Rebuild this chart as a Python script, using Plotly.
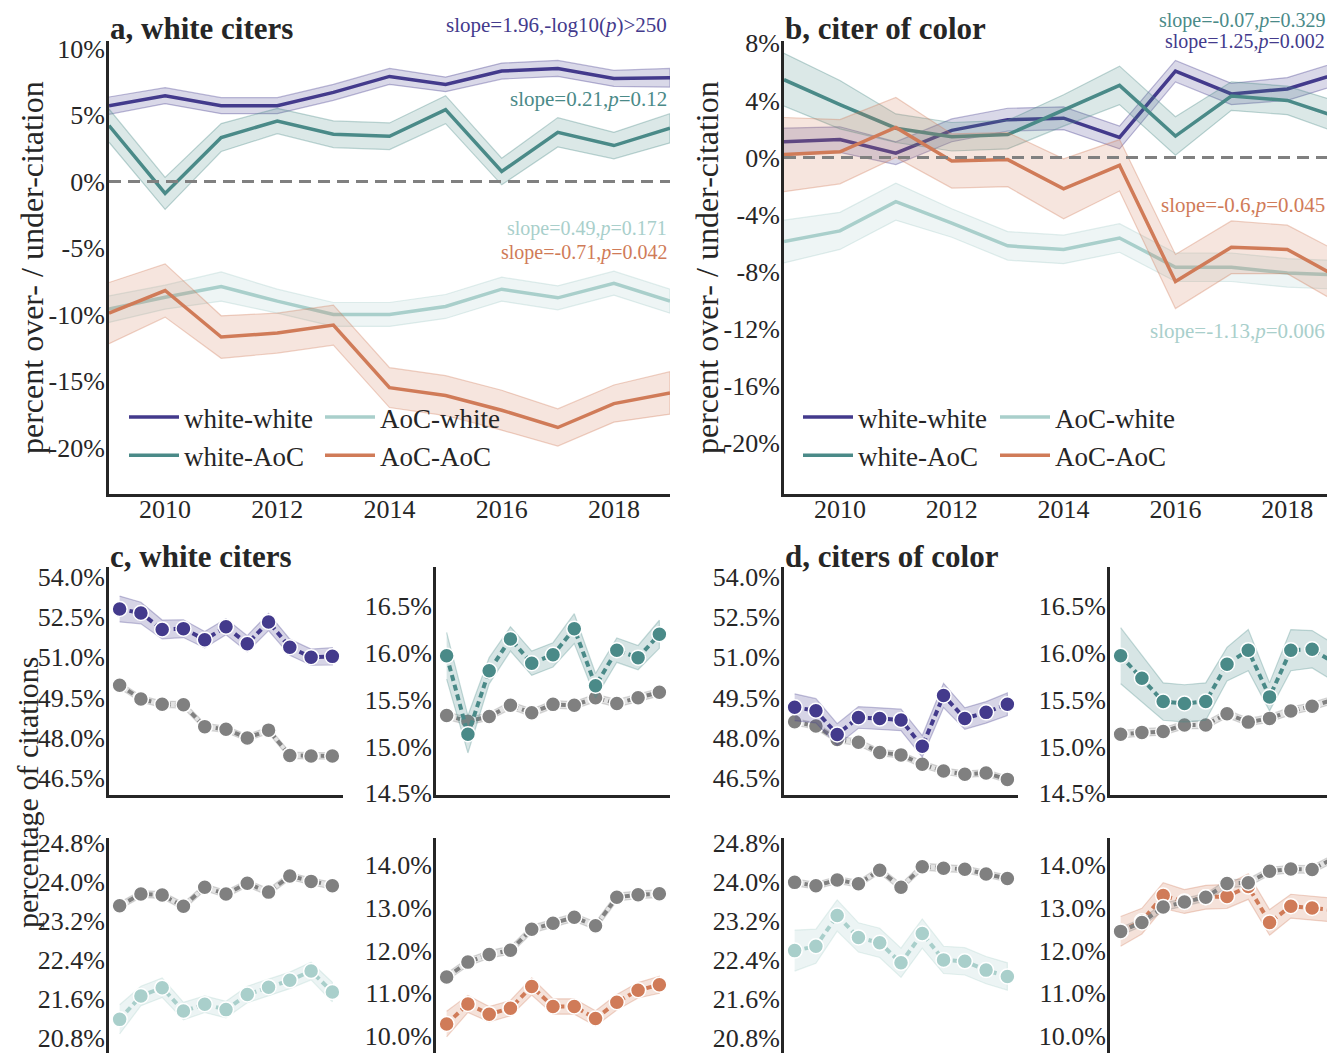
import plotly.graph_objects as go

# the page body keeps its default 8px margin, so the figure is laid out in
# reference pixels shifted by OFF and sized to fit the window without scrollbars
OFF = 8
W, H = 1335 - 2 * OFF, 1061 - 2 * OFF
FONT = 'Liberation Serif'
INK = '#262626'

PURPLE = '#433a8c'
TEAL = '#4a8a88'
LTEAL = '#a9cfcb'
ORANGE = '#d07b58'
GRAY = '#808080'

years = list(range(2009, 2020))

# a, white citers: percent over-/under-citation, with 95% CI half-widths
a_ww = [5.7, 6.45, 5.7, 5.7, 6.7, 7.9, 7.3, 8.3, 8.5, 7.75, 7.8]
a_ww_ci = [0.65, 0.6, 0.6, 0.6, 0.6, 0.6, 0.55, 0.6, 0.6, 0.6, 0.7]
a_wa = [4.2, -0.9, 3.3, 4.55, 3.55, 3.4, 5.4, 0.75, 3.7, 2.7, 4.0]
a_wa_ci = [1.25, 1.2, 1.05, 0.95, 1.0, 1.0, 1.05, 1.0, 1.1, 1.0, 1.1]
a_aw = [-9.6, -8.7, -7.9, -9.0, -10.0, -10.0, -9.4, -8.1, -8.75, -7.65, -9.0]
a_aw_ci = [1.0, 0.9, 1.1, 0.9, 0.9, 0.9, 0.9, 0.9, 0.9, 0.9, 0.9]
a_aa = [-9.9, -8.2, -11.7, -11.4, -10.8, -15.5, -16.1, -17.2, -18.5, -16.7, -15.9]
a_aa_ci = [2.3, 2.0, 1.6, 1.5, 1.5, 1.5, 1.5, 1.5, 1.4, 1.4, 1.6]

# b, citer of color
b_ww = [1.1, 1.25, 0.3, 1.9, 2.65, 2.75, 1.4, 6.05, 4.45, 4.8, 6.0]
b_ww_ci = [0.95, 0.9, 0.8, 0.8, 0.8, 0.8, 0.8, 0.75, 0.75, 0.8, 0.8]
b_wa = [5.45, 3.7, 2.05, 1.45, 1.6, 3.3, 5.05, 1.5, 4.3, 4.0, 2.7]
b_wa_ci = [1.85, 1.7, 1.0, 1.0, 1.0, 1.1, 1.35, 1.35, 1.0, 1.0, 1.1]
b_aw = [-5.9, -5.15, -3.1, -4.6, -6.2, -6.45, -5.65, -7.7, -7.7, -8.1, -8.25]
b_aw_ci = [1.5, 1.3, 1.3, 1.0, 1.0, 1.0, 1.0, 1.0, 1.0, 1.0, 1.0]
b_aa = [0.2, 0.4, 2.1, -0.25, -0.15, -2.2, -0.55, -8.7, -6.3, -6.45, -8.6]
b_aa_ci = [2.6, 2.25, 2.1, 1.9, 1.9, 2.1, 1.8, 1.9, 1.85, 1.7, 1.8]

# c, white citers: percentage of citations (observed vs. expected)
c_ww = [52.79, 52.64, 52.03, 52.06, 51.65, 52.13, 51.5, 52.31, 51.37, 51.0, 51.03]
c_ww_ci = [0.48, 0.4, 0.35, 0.33, 0.3, 0.3, 0.3, 0.32, 0.3, 0.3, 0.32]
c_ww_null = [49.96, 49.45, 49.25, 49.23, 48.42, 48.32, 48.0, 48.29, 47.35, 47.33, 47.33]
c_wa = [15.97, 15.13, 15.81, 16.15, 15.89, 15.98, 16.26, 15.65, 16.03, 15.95, 16.2]
c_wa_ci = [0.25, 0.2, 0.14, 0.13, 0.13, 0.13, 0.16, 0.13, 0.13, 0.13, 0.15]
c_wa_null = [15.33, 15.27, 15.32, 15.44, 15.36, 15.45, 15.44, 15.52, 15.46, 15.52, 15.58]
c_aw = [21.19, 21.67, 21.84, 21.36, 21.5, 21.39, 21.7, 21.85, 21.99, 22.18, 21.75]
c_aw_ci = [0.3, 0.2, 0.2, 0.18, 0.17, 0.17, 0.17, 0.17, 0.17, 0.18, 0.2]
c_aw_null = [23.52, 23.76, 23.74, 23.51, 23.9, 23.76, 23.98, 23.8, 24.13, 24.02, 23.93]
c_aa = [10.28, 10.75, 10.51, 10.65, 11.16, 10.69, 10.69, 10.41, 10.79, 11.07, 11.2]
c_aa_ci = [0.3, 0.2, 0.18, 0.18, 0.2, 0.18, 0.18, 0.18, 0.18, 0.18, 0.2]
c_aa_null = [11.38, 11.73, 11.91, 12.01, 12.5, 12.64, 12.78, 12.58, 13.25, 13.31, 13.33]

# d, citers of color
d_ww = [49.14, 49.01, 48.13, 48.76, 48.72, 48.67, 47.69, 49.58, 48.72, 48.95, 49.25]
d_ww_ci = [0.5, 0.45, 0.4, 0.4, 0.4, 0.4, 0.4, 0.45, 0.4, 0.4, 0.42]
d_ww_null = [48.6, 48.44, 47.94, 47.84, 47.46, 47.37, 47.02, 46.77, 46.65, 46.7, 46.46]
d_wa = [15.97, 15.73, 15.48, 15.46, 15.48, 15.88, 16.03, 15.53, 16.03, 16.04, 15.9]
d_wa_ci = [0.3, 0.25, 0.2, 0.2, 0.2, 0.18, 0.22, 0.15, 0.22, 0.2, 0.2]
d_wa_null = [15.13, 15.15, 15.16, 15.23, 15.23, 15.35, 15.26, 15.3, 15.38, 15.43, 15.5]
d_aw = [22.6, 22.69, 23.32, 22.87, 22.76, 22.35, 22.95, 22.41, 22.38, 22.2, 22.07]
d_aw_ci = [0.42, 0.35, 0.32, 0.3, 0.3, 0.3, 0.3, 0.28, 0.28, 0.28, 0.28]
d_aw_null = [24.0, 23.93, 24.05, 23.97, 24.25, 23.9, 24.32, 24.29, 24.27, 24.17, 24.08]
d_aa = [12.45, 12.69, 13.29, 13.15, 13.25, 13.27, 13.5, 12.66, 13.04, 13.0, 12.95]
d_aa_ci = [0.35, 0.3, 0.3, 0.28, 0.28, 0.28, 0.3, 0.3, 0.28, 0.28, 0.28]
d_aa_null = [12.45, 12.66, 13.02, 13.14, 13.25, 13.57, 13.59, 13.86, 13.91, 13.9, 14.16]
null_ci_top = 0.12
null_ci_wa = 0.04
null_ci_aw = 0.07
null_ci_aa = 0.09


def rgba(hexcol, a):
    h = hexcol.lstrip('#')
    r, g, b = int(h[0:2], 16), int(h[2:4], 16), int(h[4:6], 16)
    return f'rgba({r},{g},{b},{a})'


def fx(p):
    return (p - OFF) / W


def fy(p):
    return 1 - (p - OFF) / H


def clamp(v):
    return max(0.0, min(1.0, v))


fig = go.Figure()


def add_band(xa, ya, y, ci, color, fill_a=0.2, edge_a=0.35):
    up = [v + c for v, c in zip(y, ci)]
    lo = [v - c for v, c in zip(y, ci)]
    fig.add_trace(go.Scatter(
        x=years + years[::-1], y=up + lo[::-1], xaxis=xa, yaxis=ya,
        fill='toself', fillcolor=rgba(color, fill_a), mode='lines',
        line=dict(color=rgba(color, edge_a), width=1.2),
        hoverinfo='skip', showlegend=False, cliponaxis=False))


def add_ci_line(xa, ya, y, ci, color, name, legend):
    add_band(xa, ya, y, ci, color)
    fig.add_trace(go.Scatter(
        x=years, y=y, xaxis=xa, yaxis=ya, mode='lines', name=name,
        line=dict(color=color, width=3.5), showlegend=True, legend=legend))


def add_dots(xa, ya, y, ci, color):
    add_band(xa, ya, y, ci, color, fill_a=0.22, edge_a=0.3)
    fig.add_trace(go.Scatter(
        x=years, y=y, xaxis=xa, yaxis=ya, mode='lines+markers',
        line=dict(color=color, width=4, dash='6px,4px'),
        marker=dict(color=color, size=15, line=dict(color='white', width=1.5)),
        showlegend=False, cliponaxis=False))


# top panels
add_ci_line('x', 'y', a_ww, a_ww_ci, PURPLE, 'white-white', 'legend')
add_ci_line('x', 'y', a_wa, a_wa_ci, TEAL, 'white-AoC', 'legend')
add_ci_line('x', 'y', a_aw, a_aw_ci, LTEAL, 'AoC-white', 'legend2')
add_ci_line('x', 'y', a_aa, a_aa_ci, ORANGE, 'AoC-AoC', 'legend2')

add_ci_line('x2', 'y2', b_ww, b_ww_ci, PURPLE, 'white-white', 'legend3')
add_ci_line('x2', 'y2', b_wa, b_wa_ci, TEAL, 'white-AoC', 'legend3')
add_ci_line('x2', 'y2', b_aw, b_aw_ci, LTEAL, 'AoC-white', 'legend4')
add_ci_line('x2', 'y2', b_aa, b_aa_ci, ORANGE, 'AoC-AoC', 'legend4')

for xa, ya in [('x', 'y'), ('x2', 'y2')]:
    fig.add_shape(type='line', xref=f'{xa} domain', x0=0, x1=1, yref=ya, y0=0, y1=0,
                  line=dict(color=GRAY, width=3, dash='12px,7px'), layer='above')

# bottom panels: expected (gray) underneath observed
bottom = [
    ('x3', 'y3', c_ww, c_ww_ci, c_ww_null, null_ci_top, PURPLE),
    ('x4', 'y4', c_wa, c_wa_ci, c_wa_null, null_ci_wa, TEAL),
    ('x5', 'y5', c_aw, c_aw_ci, c_aw_null, null_ci_aw, LTEAL),
    ('x6', 'y6', c_aa, c_aa_ci, c_aa_null, null_ci_aa, ORANGE),
    ('x7', 'y7', d_ww, d_ww_ci, d_ww_null, null_ci_top, PURPLE),
    ('x8', 'y8', d_wa, d_wa_ci, d_wa_null, null_ci_wa, TEAL),
    ('x9', 'y9', d_aw, d_aw_ci, d_aw_null, null_ci_aw, LTEAL),
    ('x10', 'y10', d_aa, d_aa_ci, d_aa_null, null_ci_aa, ORANGE),
]
for xa, ya, obs, obs_ci, null, nci, col in bottom:
    if xa == 'x10':
        add_dots(xa, ya, obs, obs_ci, col)
        add_dots(xa, ya, null, [nci for _ in null], GRAY)
    else:
        add_dots(xa, ya, null, [nci for _ in null], GRAY)
        add_dots(xa, ya, obs, obs_ci, col)

tickfont = dict(family=FONT, size=26, color=INK)


def xax(n, left, right, rng, labels=True, tickvals=None, line=True):
    return dict(domain=[clamp(fx(left)), clamp(fx(right))], range=rng, anchor=f'y{n}',
                showline=line, linecolor=INK, linewidth=3, showgrid=False, zeroline=False,
                ticks='', showticklabels=labels, tickvals=tickvals, tickfont=tickfont,
                ticklabelstandoff=-10, automargin=False)


def yax(n, top, bottom_px, rng, tickvals, fmt):
    return dict(domain=[clamp(fy(bottom_px)), clamp(fy(top))], range=rng, anchor=f'x{n}',
                showline=True, linecolor=INK, linewidth=3, showgrid=False, zeroline=False,
                ticks='', tickvals=tickvals, ticktext=[fmt.format(v) for v in tickvals],
                tickfont=tickfont, ticklabelstandoff=-4, ticklabeloverflow='allow',
                automargin=False)


yr_ticks = [2010, 2012, 2014, 2016, 2018]
lay = dict(
    xaxis=xax('', 109, 670, [2009, 2019], tickvals=yr_ticks),
    yaxis=yax('', 40.5, 494, [-23.5, 10.6], [-20, -15, -10, -5, 0, 5, 10], '{:d}%'),
    xaxis2=xax(2, 784, 1327, [2009, 2018.71], tickvals=yr_ticks),
    yaxis2=yax(2, 40.5, 494, [-23.6, 8.2], [-20, -16, -12, -8, -4, 0, 4, 8], '{:d}%'),
)
t_top = [54.0, 52.5, 51.0, 49.5, 48.0, 46.5]
t_wa = [16.5, 16.0, 15.5, 15.0, 14.5]
t_aw = [24.8, 24.0, 23.2, 22.4, 21.6, 20.8]
t_aa = [14.0, 13.0, 12.0, 11.0, 10.0]
grid = [
    (3, 109, 343, 567, 795, [45.88, 54.35], t_top, [2008.5, 2019.5], True),
    (4, 436, 670, 567, 795, [14.48, 16.92], t_wa, [2008.5, 2019.5], True),
    (5, 109, 343, 837.5, 1053, [20.5, 24.92], t_aw, [2008.5, 2019.5], False),
    (6, 436, 670, 837.5, 1053, [9.6, 14.65], t_aa, [2008.5, 2019.5], False),
    (7, 784, 1018, 567, 795, [45.88, 54.35], t_top, [2008.5, 2019.5], True),
    (8, 1110, 1327, 567, 795, [14.48, 16.92], t_wa, [2008.5, 2018.7], True),
    (9, 784, 1018, 837.5, 1053, [20.5, 24.92], t_aw, [2008.5, 2019.5], False),
    (10, 1110, 1327, 837.5, 1053, [9.6, 14.65], t_aa, [2008.5, 2018.7], False),
]
for i, l, r, t, b, yr, tv, xr, xl in grid:
    lay[f'xaxis{i}'] = xax(i, l, r, xr, labels=False, line=xl)
    lay[f'yaxis{i}'] = yax(i, t, b, yr, tv, '{:.1f}%')

legfont = dict(family=FONT, size=27, color=INK)
for name, lx in [('legend', 124), ('legend2', 320), ('legend3', 798), ('legend4', 995)]:
    lay[name] = dict(x=fx(lx), y=fy(393), xanchor='left', yanchor='top', itemwidth=50,
                     bgcolor='rgba(0,0,0,0)', font=legfont, tracegroupgap=0)

annotations = []


def note(x, y, text, color=INK, size=20, xanchor='right', bold=False, angle=0):
    annotations.append(dict(
        x=fx(x), y=fy(y), xref='paper', yref='paper', text=f'<b>{text}</b>' if bold else text,
        showarrow=False, xanchor=xanchor, yanchor='middle', textangle=angle,
        font=dict(family=FONT, size=size, color=color)))


note(108, 29, 'a, white citers', size=31, xanchor='left', bold=True)
note(783, 29, 'b, citer of color', size=31, xanchor='left', bold=True)
note(108, 556, 'c, white citers', size=31, xanchor='left', bold=True)
note(783, 556, 'd, citers of color', size=31, xanchor='left', bold=True)
note(32, 268, 'percent over- / under-citation', size=32, xanchor='center', angle=-90)
note(707, 268, 'percent over- / under-citation', size=32, xanchor='center', angle=-90)
note(27, 792, 'percentage of citations', size=30, xanchor='center', angle=-90)

note(669, 25, 'slope=1.96,-log10(<i>p</i>)>250', PURPLE, size=21)
note(669, 99, 'slope=0.21,<i>p</i>=0.12', TEAL, size=21)
note(669, 229, 'slope=0.49,<i>p</i>=0.171', LTEAL)
note(669, 252, 'slope=-0.71,<i>p</i>=0.042', ORANGE)
note(1327, 20, 'slope=-0.07,<i>p</i>=0.329', TEAL)
note(1327, 42, 'slope=1.25,<i>p</i>=0.002', PURPLE)
note(1327, 205, 'slope=-0.6,<i>p</i>=0.045', ORANGE, size=21)
note(1327, 331, 'slope=-1.13,<i>p</i>=0.006', LTEAL, size=21)

fig.update_layout(
    width=W, height=H, margin=dict(l=0, r=0, t=0, b=0, autoexpand=False),
    paper_bgcolor='white', plot_bgcolor='white',
    font=dict(family=FONT, color=INK), annotations=annotations, **lay)

fig.write_html('out.html')
